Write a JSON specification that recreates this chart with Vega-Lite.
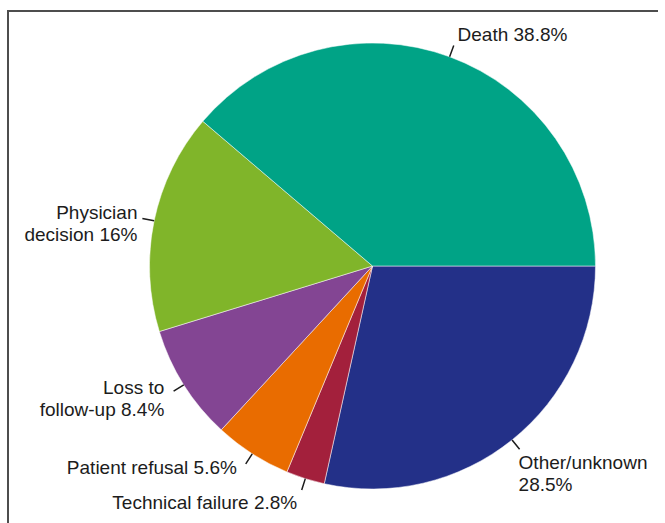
{
  "$schema": "https://vega.github.io/schema/vega-lite/v6.json",
  "width": 650,
  "height": 512,
  "autosize": "none",
  "padding": {"left": 8, "top": 11, "right": 7, "bottom": 0},
  "background": "white",
  "view": {"stroke": "#4d4d4d", "strokeWidth": 2, "strokeDash": [1162, 1162], "strokeDashOffset": 512},
  "config": {
    "text": {"font": "Liberation Sans", "fontSize": 19, "color": "#1c1c1c", "lineHeight": 22, "lineBreak": "\n"}
  },
  "data": {
    "values": [
      {"cause": "Other/unknown", "label": "Other/unknown\n28.5%", "pct": 28.5, "rank": 1},
      {"cause": "Technical failure", "label": "Technical failure 2.8%", "pct": 2.8, "rank": 2},
      {"cause": "Patient refusal", "label": "Patient refusal 5.6%", "pct": 5.6, "rank": 3},
      {"cause": "Loss to follow-up", "label": "Loss to\nfollow-up 8.4%", "pct": 8.4, "rank": 4},
      {"cause": "Physician decision", "label": "Physician\ndecision 16%", "pct": 16, "rank": 5},
      {"cause": "Death", "label": "Death 38.8%", "pct": 38.8, "rank": 6}
    ]
  },
  "encoding": {
    "theta": {"field": "pct", "type": "quantitative", "stack": true, "scale": {"range": [1.5707963, 7.8539816]}},
    "order": {"field": "rank", "type": "quantitative"}
  },
  "layer": [
    {
      "mark": {"type": "arc", "radius": 223, "stroke": "white", "strokeWidth": 0.5, "xOffset": 39.5, "yOffset": -1},
      "encoding": {
        "color": {
          "field": "cause",
          "type": "nominal",
          "legend": null,
          "scale": {
            "domain": ["Other/unknown", "Technical failure", "Patient refusal", "Loss to follow-up", "Physician decision", "Death"],
            "range": ["#233088", "#a3203c", "#e96c00", "#834593", "#80b52a", "#00a386"]
          }
        }
      }
    },
    {
      "mark": {"type": "arc", "radius": 235, "radius2": 223, "padAngle": 3, "fillOpacity": 0, "stroke": "#1c1c1c", "strokeWidth": 1.5, "xOffset": 39.5, "yOffset": -1},
      "encoding": {}
    },
    {
      "mark": {"type": "text", "radius": 246, "align": "left", "baseline": "middle", "xOffset": 39.5, "yOffset": -1},
      "encoding": {"text": {"condition": {"test": "datum.cause === 'Death'", "field": "label"}, "value": ""}}
    },
    {
      "mark": {"type": "text", "radius": 240, "align": "right", "baseline": "middle", "xOffset": 39.5, "yOffset": -1, "dy": -4},
      "encoding": {"text": {"condition": {"test": "datum.cause === 'Physician decision'", "field": "label"}, "value": ""}}
    },
    {
      "mark": {"type": "text", "radius": 246, "align": "right", "baseline": "middle", "xOffset": 39.5, "yOffset": -1, "dy": -9},
      "encoding": {"text": {"condition": {"test": "datum.cause === 'Loss to follow-up'", "field": "label"}, "value": ""}}
    },
    {
      "mark": {"type": "text", "radius": 244, "align": "right", "baseline": "middle", "xOffset": 39.5, "yOffset": -1, "dx": -4, "dy": -3},
      "encoding": {"text": {"condition": {"test": "datum.cause === 'Patient refusal'", "field": "label"}, "value": ""}}
    },
    {
      "mark": {"type": "text", "radius": 250, "align": "right", "baseline": "middle", "xOffset": 39.5, "yOffset": -1, "dy": -1},
      "encoding": {"text": {"condition": {"test": "datum.cause === 'Technical failure'", "field": "label"}, "value": ""}}
    },
    {
      "mark": {"type": "text", "radius": 235, "align": "left", "baseline": "top", "xOffset": 39.5, "yOffset": -1, "dx": -1, "dy": 5},
      "encoding": {"text": {"condition": {"test": "datum.cause === 'Other/unknown'", "field": "label"}, "value": ""}}
    }
  ]
}
